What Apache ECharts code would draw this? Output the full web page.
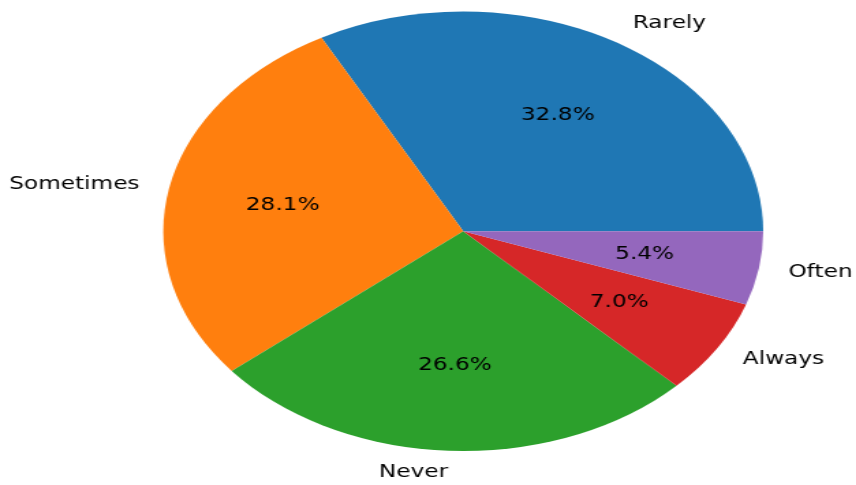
<!DOCTYPE html>
<html>
<head>
<meta charset="utf-8">
<script src="https://cdn.jsdelivr.net/npm/echarts@6/dist/echarts.min.js"></script>
<style>
  html, body { margin: 0; padding: 0; background: #fff; overflow: hidden; }
  /* the reference pie is stretched sideways, so the chart is drawn narrow and scaled in x */
  #chart { position: absolute; left: 0; top: 0; width: 627px; height: 485px;
           transform: scaleX(1.3653); transform-origin: 0 0; }
</style>
</head>
<body>
<div id="chart"></div>
<script>
var categories = ['Rarely', 'Sometimes', 'Never', 'Always', 'Often'];
var shares = [32.8, 28.1, 26.6, 7.0, 5.4];
var colors = ['#1f77b4', '#ff7f0e', '#2ca02c', '#d62728', '#9467bd'];

var chart = echarts.init(document.getElementById('chart'), null, { renderer: 'canvas' });

var R = 219.7;
var center = [339.3, 231.3];

var pieData = categories.map(function (c, i) {
    return { name: c, value: shares[i], itemStyle: { color: colors[i] } };
});

var option = {
    animation: false,
    textStyle: { fontFamily: 'DejaVu Sans' },
    series: [
        {
            type: 'pie',
            center: center,
            radius: [0, R],
            startAngle: 0,
            clockwise: false,
            avoidLabelOverlap: false,
            silent: true,
            itemStyle: { borderWidth: 0 },
            label: {
                show: true,
                position: 'outside',
                color: '#000',
                fontSize: 17,
                fontFamily: 'DejaVu Sans',
                distanceToLabelLine: 0,
                formatter: '{b}'
            },
            labelLine: { show: false, length: R * 0.1, length2: 0 },
            data: pieData
        },
        {
            // invisible ring so that the inside labels sit at 0.6 of the radius
            type: 'pie',
            center: center,
            radius: [0, R * 1.2],
            startAngle: 0,
            clockwise: false,
            silent: true,
            itemStyle: { color: 'rgba(0,0,0,0)', borderWidth: 0 },
            label: {
                show: true,
                position: 'inside',
                color: '#000',
                fontSize: 17,
                fontFamily: 'DejaVu Sans',
                formatter: function (d) {
                    return d.value.toFixed(1) + '%';
                }
            },
            labelLine: { show: false },
            data: categories.map(function (c, i) {
                return { name: c, value: shares[i] };
            })
        }
    ]
};

chart.setOption(option);
</script>
</body>
</html>
